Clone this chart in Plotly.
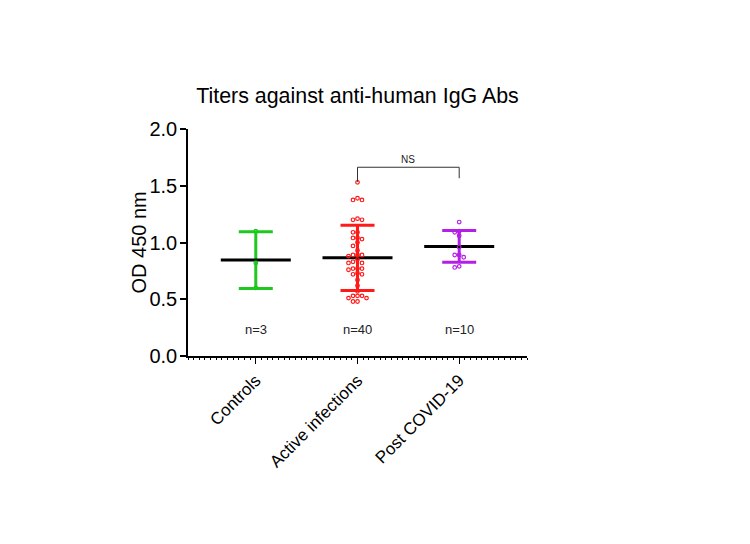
import plotly.graph_objects as go
import numpy as np

categories = ["Controls", "Active infections", "Post COVID-19"]
colors = ["#1ec81e", "#ff1a1a", "#b41ee6"]
controls = [1.10, 0.82, 0.60]
active = [1.53, 1.39, 1.375, 1.375, 1.21, 1.20, 1.20, 1.09, 1.09, 1.04,
          1.04, 1.03, 1.00, 0.97, 0.93, 0.89, 0.89, 0.89, 0.88, 0.85,
          0.83, 0.82, 0.82, 0.77, 0.77, 0.77, 0.76, 0.73, 0.72, 0.72,
          0.67, 0.62, 0.57, 0.53, 0.53, 0.53, 0.51, 0.51, 0.48, 0.48]
post = [1.18, 1.10, 1.09, 1.06, 0.96, 0.89, 0.89, 0.87, 0.79, 0.78]
groups = [controls, active, post]
means = [0.845, 0.865, 0.965]
sds = [0.25, 0.287, 0.14]
n_labels = ["n=3", "n=40", "n=10"]
n_label_y = 0.233
bracket_x = [1, 1, 2, 2]
bracket_y = [1.535, 1.663, 1.663, 1.566]
bracket_text = "NS"

W, H = 750, 544
ml, mt = 180, 121
pw, ph = 339, 227
mr, mb = W - ml - pw, H - mt - ph
xr = [-2/3, 8/3]
yr = [0, 2]
px_x = pw / (xr[1] - xr[0])
px_y = ph / (yr[1] - yr[0])


def swarm(vals, step_px=4.5, diam=4.5):
    placed = []
    offs = []
    for v in vals:
        k = 0
        for o in [0, -1, 1, -2, 2, -3, 3]:
            ok = True
            for (po, pv) in placed:
                dx = (o - po) * step_px
                dy = (v - pv) * px_y
                if dx * dx + dy * dy < diam * diam:
                    ok = False
                    break
            if ok:
                k = o
                break
        placed.append((k, v))
        offs.append(k * step_px / px_x)
    return offs


fig = go.Figure()
for i, c in enumerate(colors):
    fig.add_trace(go.Scatter(
        x=[i], y=[means[i]], mode="markers",
        marker=dict(size=1, color="rgba(0,0,0,0)"),
        error_y=dict(type="data", array=[sds[i]], color=c, thickness=3, width=17),
        showlegend=False, hoverinfo="skip"))
fig.add_trace(go.Scatter(
    x=list(range(len(categories))), y=means, mode="markers",
    marker=dict(symbol="line-ew-open", size=50, color="black",
                line=dict(width=3, color="black")),
    showlegend=False))
for i, (g, c) in enumerate(zip(groups, colors)):
    offs = swarm(g)
    fig.add_trace(go.Scatter(
        x=[i + o for o in offs], y=g, mode="markers",
        marker=dict(symbol="circle-open", size=3.6, color=c, line=dict(width=1.2, color=c)),
        showlegend=False))
fig.add_trace(go.Scatter(x=bracket_x, y=bracket_y, mode="lines",
                         line=dict(color="#333333", width=1), showlegend=False))
fig.add_annotation(x=(bracket_x[1] + bracket_x[2]) / 2, y=bracket_y[1], text=bracket_text,
                   showarrow=False, yshift=8, font=dict(size=10, color="#222"))
for i, t in enumerate(n_labels):
    fig.add_annotation(x=i, y=n_label_y, text=t, showarrow=False,
                       font=dict(size=13, color="#222"))
fig.add_annotation(x=-50 / pw, y=0.5, xref="paper", yref="paper", text="OD 450 nm",
                   textangle=-90, showarrow=False, xanchor="center", yanchor="middle",
                   font=dict(size=20, color="black"))

fig.update_layout(
    width=W, height=H,
    margin=dict(l=ml, r=mr, t=mt, b=mb),
    paper_bgcolor="white", plot_bgcolor="white",
    font=dict(family="Liberation Sans, Arial, sans-serif", color="black"),
    title=dict(text="Titers against anti-human IgG Abs", x=0.5, xref="paper",
               y=1 - 88 / H, yref="container", yanchor="middle",
               font=dict(size=21.4, color="black")),
)
fig.update_xaxes(range=xr, tickvals=[0, 1, 2], ticktext=categories, tickangle=-45,
                 ticks="outside", ticklen=6, tickwidth=1.3, tickcolor="black",
                 showline=True, linecolor="black", linewidth=1.5, showgrid=False,
                 zeroline=False, tickfont=dict(size=17), automargin=False,
                 minor=dict(dtick=1/18, tick0=0, ticks="outside", ticklen=2,
                            tickwidth=1, tickcolor="black", showgrid=False))
fig.update_yaxes(range=yr, dtick=0.5, tickformat=".1f", ticks="outside", ticklen=6,
                 tickwidth=1.5, tickcolor="black", showline=True, linecolor="black",
                 linewidth=1.5, showgrid=False, zeroline=False, tickfont=dict(size=20),
                 automargin=False, ticklabelstandoff=-1)
fig.write_html("out.html")
